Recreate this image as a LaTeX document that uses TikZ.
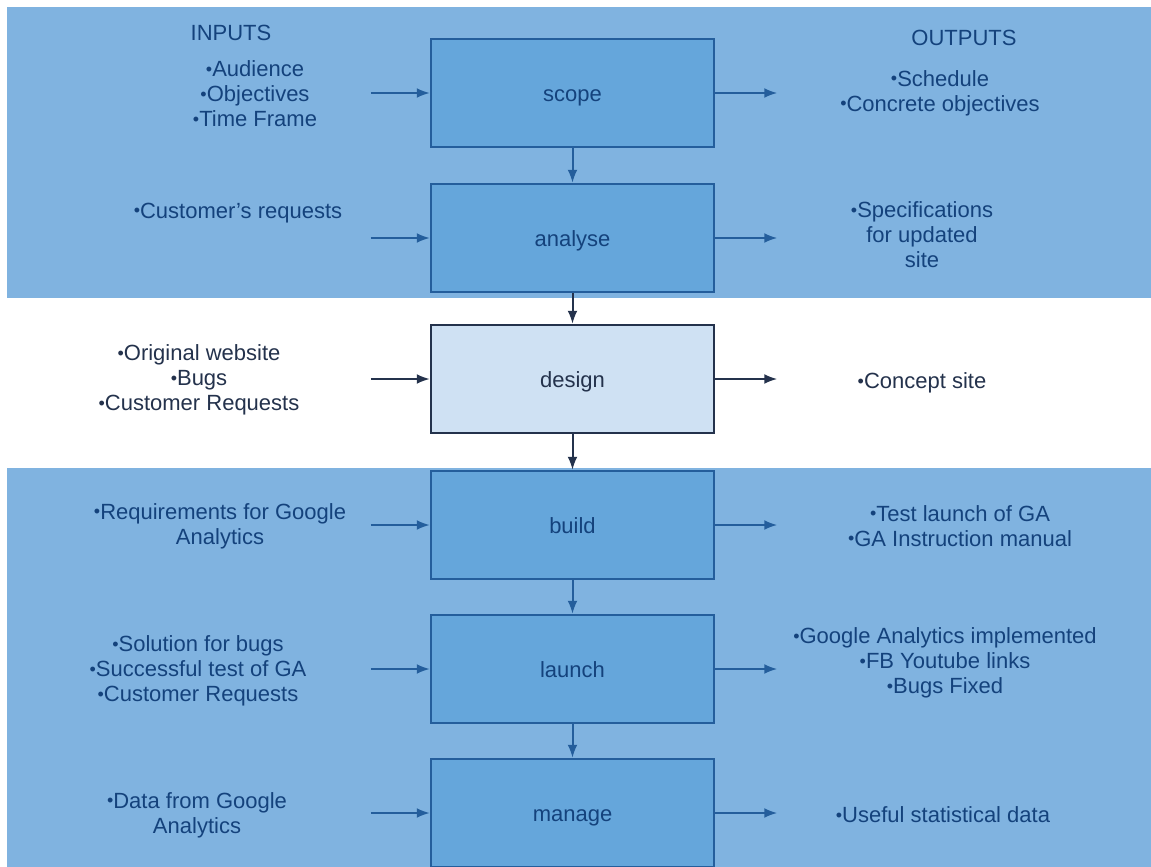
\documentclass[tikz,border=0pt]{standalone}
\usepackage{fontspec}
\setmainfont{Liberation Sans}
\usetikzlibrary{arrows.meta}
\definecolor{bandblue}{RGB}{128,179,224}
\definecolor{boxblue}{RGB}{101,166,219}
\definecolor{edgeblue}{RGB}{36,94,156}
\definecolor{inkblue}{RGB}{20,66,124}
\definecolor{paleblue}{RGB}{207,225,243}
\definecolor{slate}{RGB}{36,50,76}
\newcommand\bul{{\fontsize{18}{18}\selectfont\raisebox{1.5pt}{•}}}

\begin{document}
\begin{tikzpicture}[x=1pt, y=-1pt, font=\fontsize{22}{25}\selectfont,
  stage/.style={draw=edgeblue, fill=boxblue, line width=2.5pt,
    minimum width=283pt, minimum height=108pt, text=inkblue,
    text height=16pt, text depth=0pt},
  note/.style={align=center, text=inkblue, inner sep=0pt},
  flow/.style={draw=edgeblue, line width=2pt, -{Latex[length=13pt,width=10pt]}}]
\useasboundingbox (0,0) rectangle (1151,867);
% ---- background bands ----
\fill[white] (0,0) rectangle (1151,867);
\fill[bandblue] (7,7) rectangle (1151,298);
\fill[bandblue] (7,468) rectangle (1151,867);

% ---- column headings ----
\node[note] (inputs) at (231,33) {INPUTS};
\node[note] (outputs) at (964,38) {OUTPUTS};

% ---- stages ----
\node[stage] (scope) at (572.5,93) {scope};
\node[stage] (analyse) at (572.5,238) {analyse};
\node[stage, fill=paleblue, draw=slate, text=slate] (design) at (572.5,379) {design};
\node[stage] (build) at (572.5,525) {build};
\node[stage] (launch) at (572.5,669) {launch};
\node[stage] (manage) at (572.5,813) {manage};

% ---- inputs ----
\node[note] (inScope) at (255,94) {\bul Audience\\\bul Objectives\\\bul Time Frame};
\node[note] (inAnalyse) at (238,213) {\bul Customer’s requests};
\node[note, text=slate] (inDesign) at (199,380) {\bul Original website\\\bul Bugs\\\bul Customer Requests};
\node[note] (inBuild) at (220,526) {\bul Requirements for Google\\Analytics};
\node[note] (inLaunch) at (198,671) {\bul Solution for bugs\\\bul Successful test of GA\\\bul Customer Requests};
\node[note] (inManage) at (197,815) {\bul Data from Google\\Analytics};

% ---- outputs ----
\node[note] (outScope) at (940,93) {\bul Schedule\\\bul Concrete objectives};
\node[note] (outAnalyse) at (922,235) {\bul Specifications\\for updated\\site};
\node[note, text=slate] (outDesign) at (922,383) {\bul Concept site};
\node[note] (outBuild) at (960,526) {\bul Test launch of GA\\\bul GA Instruction manual};
\node[note] (outLaunch) at (945,663) {\bul Google Analytics implemented\\\bul FB Youtube links\\\bul Bugs Fixed};
\node[note] (outManage) at (943,815) {\bul Useful statistical data};

% ---- flow between stages ----
\draw[flow] (scope) -- (analyse);
\draw[flow, draw=slate] (analyse) -- (design);
\draw[flow, draw=slate] (design) -- (build);
\draw[flow] (build) -- (launch);
\draw[flow] (launch) -- (manage);

% ---- input / output arrows ----
\foreach \s/\c in {scope/edgeblue, analyse/edgeblue, design/slate, build/edgeblue, launch/edgeblue, manage/edgeblue} {
  \draw[flow, draw=\c] ([xshift=-59pt]\s.west) coordinate (\s-in) -- (\s.west);
  \draw[flow, draw=\c] (\s.east) -- ([xshift=62pt]\s.east) coordinate (\s-out);
}
\end{tikzpicture}
\end{document}
